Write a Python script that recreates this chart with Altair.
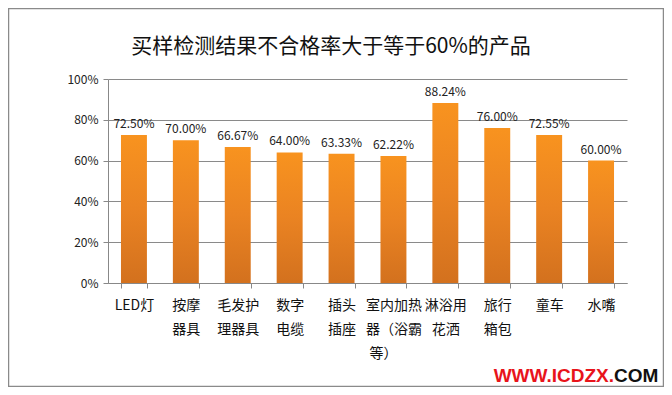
import altair as alt
import pandas as pd

title_text = "买样检测结果不合格率大于等于60%的产品"
categories = ["LED灯", "按摩|器具", "毛发护|理器具", "数字|电缆", "插头|插座",
              "室内加热|器（浴霸|等）\u3000\u3000\u200b", "淋浴用|花洒", "旅行|箱包", "童车", "水嘴"]
rates = [0.7250, 0.7000, 0.6667, 0.6400, 0.6333, 0.6222, 0.8824, 0.7600, 0.7255, 0.6000]
y_ticks = [0, 0.2, 0.4, 0.6, 0.8, 1.0]

df = pd.DataFrame({"cat": categories, "rate": rates})
one = pd.DataFrame({"a": [0]})

FONT = "Noto Sans CJK SC"

x_enc = alt.X("cat:N", sort=None,
              scale=alt.Scale(paddingInner=0.5, paddingOuter=0.25),
              axis=alt.Axis(title=None, labelAngle=0, labelExpr="split(datum.label, '|')",
                            labelFontSize=14, labelFont=FONT, labelColor="#111",
                            labelLineHeight=24, labelBaseline="top", labelPadding=10,
                            tickBand="extent", tickSize=5, tickColor="#888",
                            domainColor="#888", labelAlign="center"))
y_enc = alt.Y("rate:Q", scale=alt.Scale(domain=[0, 1], nice=False),
              axis=alt.Axis(title=None, values=y_ticks, format=".0%", labelFontSize=12,
                            labelFont=FONT, labelColor="#222", tickSize=5, tickColor="#888",
                            domainColor="#888", gridColor="#8a8a8a", labelPadding=5))

grad = alt.Gradient(gradient="linear",
                    stops=[alt.GradientStop(color="#F8931F", offset=0),
                           alt.GradientStop(color="#EA8322", offset=0.5),
                           alt.GradientStop(color="#D3711E", offset=1)],
                    x1=0, x2=0, y1=0, y2=1)

bars = alt.Chart(df).mark_bar(color=grad).encode(x=x_enc, y=y_enc)

labels = alt.Chart(df).mark_text(baseline="bottom", dy=-4, fontSize=12, font=FONT,
                                 color="#222").encode(
    x=alt.X("cat:N", sort=None), y="rate:Q", text=alt.Text("rate:Q", format=".2%"))

title = alt.Chart(one).mark_text(fontSize=21, font=FONT, color="#111",
                                 align="center", baseline="middle").encode(
    x=alt.value(223), y=alt.value(-32), text=alt.value(title_text))

WM_FONT = "Liberation Sans"
wm_red = alt.Chart(one).mark_text(fontSize=19, font=WM_FONT,
                                  fontWeight="bold", color="#E8141B", align="right",
                                  baseline="alphabetic").encode(
    x=alt.value(506), y=alt.value(303), text=alt.value("WWW.ICDZX."))
wm_black = alt.Chart(one).mark_text(fontSize=19, font=WM_FONT,
                                    fontWeight="bold", color="#111", align="left",
                                    baseline="alphabetic").encode(
    x=alt.value(506), y=alt.value(303), text=alt.value("COM"))

frame = alt.Chart(one).mark_rect(fill="transparent", stroke="#8a8a8a", strokeWidth=1.5).encode(
    x=alt.value(-99.5), x2=alt.value(555.5), y=alt.value(-70.5), y2=alt.value(307.5))

chart = alt.layer(frame, bars, labels, title, wm_red, wm_black).properties(
    width=519, height=204,
    autosize=alt.AutoSizeParams(type="none"),
    padding={"left": 100, "top": 71, "right": 37, "bottom": 104},
    background="white",
).configure_view(stroke=None)

chart.save("out.html", embed_options={"renderer": "svg", "actions": False})
